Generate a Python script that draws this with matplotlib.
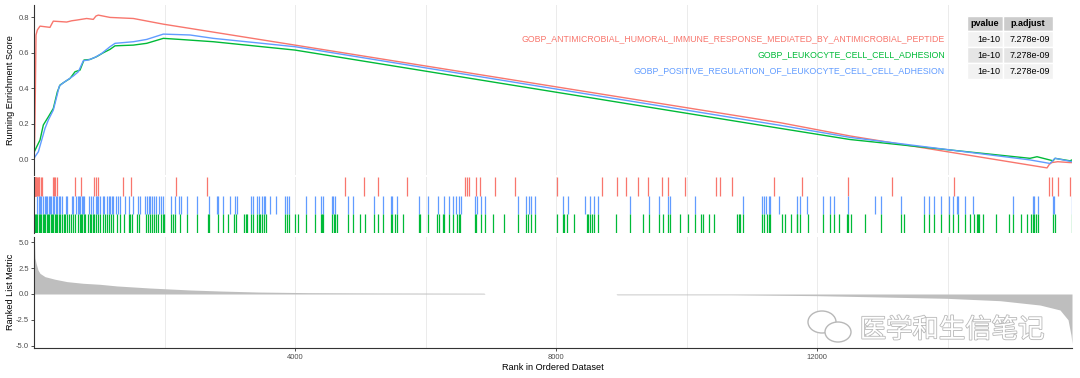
import numpy as np
import matplotlib
matplotlib.use("Agg")
import matplotlib.pyplot as plt
from matplotlib.patches import Rectangle, Ellipse
import matplotlib.patheffects as pe

plt.rcParams['font.family'] = ['Liberation Sans', 'DejaVu Sans']
plt.rcParams['axes.unicode_minus'] = False

# gene set names and stats
set_names = [
    "GOBP_ANTIMICROBIAL_HUMORAL_IMMUNE_RESPONSE_MEDIATED_BY_ANTIMICROBIAL_PEPTIDE",
    "GOBP_LEUKOCYTE_CELL_CELL_ADHESION",
    "GOBP_POSITIVE_REGULATION_OF_LEUKOCYTE_CELL_CELL_ADHESION",
]
set_colors = ["#F8766D", "#00BA38", "#619CFF"]
pvalues = ["1e-10", "1e-10", "1e-10"]
padjust = ["7.278e-09", "7.278e-09", "7.278e-09"]
n_genes = 15908

# running enrichment score
red_rank = [0, 10, 21, 31, 51, 92, 245, 276, 296, 501, 577, 654, 807, 909, 950, 986,
            1165, 1523, 1982, 4000, 11433, 12506, 15525, 15561, 15598, 15690, 15874, 15908]
red_es = [0.0, 0.107, 0.389, 0.699, 0.727, 0.749, 0.742, 0.764, 0.777, 0.772, 0.779, 0.783,
          0.792, 0.787, 0.806, 0.811, 0.798, 0.792, 0.76, 0.642, 0.205, 0.13, -0.05, -0.03,
          -0.02, -0.015, -0.02, -0.02]

green_rank = [0, 5, 41, 92, 143, 220, 296, 358, 399, 475, 552, 629, 705, 766, 858, 961,
              1063, 1165, 1242, 1523, 1727, 1982, 2238, 2749, 4000, 11433, 12506, 15264,
              15372, 15617, 15648, 15877, 15908]
green_es = [0.03, 0.041, 0.069, 0.107, 0.192, 0.238, 0.285, 0.379, 0.417, 0.436, 0.454,
            0.492, 0.501, 0.558, 0.561, 0.577, 0.599, 0.618, 0.638, 0.642, 0.652, 0.68,
            0.674, 0.661, 0.614, 0.173, 0.11, 0.004, 0.013, -0.01, 0.004, -0.01, -0.005]

blue_rank = [0, 15, 67, 118, 169, 220, 296, 348, 388, 450, 526, 603, 680, 756, 833, 935,
             1037, 1165, 1242, 1523, 1727, 1982, 2391, 2749, 4000, 11433, 12506, 15264,
             15571, 15648, 15908]
blue_es = [0.0, 0.013, 0.041, 0.107, 0.173, 0.22, 0.276, 0.351, 0.411, 0.43, 0.449, 0.468,
           0.492, 0.554, 0.558, 0.573, 0.595, 0.633, 0.652, 0.661, 0.674, 0.704, 0.699,
           0.68, 0.633, 0.19, 0.122, -0.005, -0.025, 0.004, -0.015]

# hit positions (ranks)
red_hits = [1, 3, 6, 10, 15, 21, 28, 36, 46, 58, 70, 80, 105, 115, 284, 307, 322, 352,
            628, 720, 927, 943, 977, 1369, 1492, 2172, 2651, 4771, 5062, 5277, 5721, 6610,
            6641, 6671, 6779, 6840, 7070, 7377, 8015, 8701, 8930, 9068, 9261, 9415, 9620,
            9712, 9977, 10457, 10509, 10702, 11346, 11770, 12471, 13145, 14105, 15561,
            15598, 15690, 15874]
blue_hits = [51, 72, 92, 113, 133, 164, 184, 205, 225, 246, 266, 286, 307, 338, 358, 378,
             399, 435, 486, 511, 578, 603, 639, 670, 690, 711, 731, 751, 772, 848, 869, 910,
             945, 966, 986, 1007, 1053, 1073, 1124, 1145, 1170, 1191, 1211, 1257, 1283,
             1318, 1395, 1461, 1523, 1599, 1630, 1707, 1732, 1758, 1783, 1809, 1845, 1870,
             1911, 1942, 1972, 2095, 2167, 2228, 2253, 2350, 2494, 2688, 2800, 2821, 2902,
             3010, 3086, 3107, 3331, 3352, 3413, 3454, 3495, 3520, 3546, 3617, 3709, 3852,
             3883, 3904, 4174, 4312, 4404, 4435, 4573, 4588, 4608, 4808, 4884, 5216, 5354,
             5467, 5482, 5559, 5906, 6034, 6197, 6289, 6366, 6427, 6468, 6519, 6540, 6759,
             6785, 6851, 6913, 7423, 7536, 7582, 7623, 7679, 8112, 8179, 8449, 8516, 8587,
             8649, 9139, 9425, 9584, 9711, 9752, 10125, 10861, 11157, 11188, 11218, 11269,
             11285, 11423, 11699, 11745, 11847, 12087, 12194, 12266, 12480, 12894, 12976,
             13288, 13645, 13722, 13798, 13906, 14018, 14090, 14141, 14161, 14274, 14391,
             15009, 15306, 15321, 15392, 15622, 15638, 15903]
green_hits = [11, 31, 51, 72, 92, 113, 133, 154, 174, 194, 215, 235, 256, 276, 297, 317,
              338, 358, 378, 399, 435, 455, 475, 501, 532, 562, 593, 629, 680, 700, 721,
              741, 762, 782, 833, 854, 874, 900, 925, 956, 986, 1017, 1058, 1089, 1124,
              1155, 1186, 1216, 1278, 1318, 1380, 1451, 1472, 1507, 1584, 1605, 1717, 1743,
              1778, 1809, 1840, 1875, 1906, 1942, 1972, 1998, 2100, 2131, 2167, 2238, 2340,
              2504, 2662, 2683, 2815, 2892, 2969, 3061, 3096, 3224, 3250, 3270, 3331, 3362,
              3413, 3444, 3464, 3500, 3531, 3556, 3853, 3883, 3914, 4001, 4052, 4174, 4312,
              4404, 4419, 4435, 4573, 4593, 4608, 4644, 4808, 4884, 5002, 5078, 5216, 5278,
              5354, 5467, 5487, 5528, 5564, 5651, 5906, 5921, 6034, 6172, 6202, 6274, 6289,
              6366, 6427, 6478, 6509, 6529, 6759, 6780, 6851, 6913, 7040, 7209, 7423, 7536,
              7577, 7623, 7679, 8011, 8112, 8127, 8173, 8276, 8470, 8495, 8521, 8551, 8587,
              8649, 8919, 9139, 9338, 9425, 9584, 9645, 9711, 9752, 9905, 10028, 10125,
              10217, 10248, 10340, 10427, 10769, 10805, 10825, 10861, 11157, 11188, 11228,
              11269, 11285, 11469, 11515, 11607, 11689, 11699, 11745, 11862, 12087, 12194,
              12266, 12332, 12455, 12470, 12526, 12731, 12976, 13288, 13339, 13645, 13722,
              13798, 13906, 14018, 14079, 14156, 14274, 14340, 14406, 14447, 14473, 14488,
              14549, 14749, 14948, 15009, 15127, 15214, 15280, 15306, 15321, 15357, 15392,
              15622, 15648, 15903]

# ranked list metric
metric_rank = [0, 8, 15, 31, 61, 92, 169, 322, 506, 751, 1011, 1272, 1778, 2391, 2851,
               3433, 4199, 5257, 6897, 6912, 8920, 8935, 10697, 11985, 13992, 14805, 15418,
               15724, 15847, 15893, 15908]
metric_val = [4.95, 4.95, 3.5, 3.0, 2.33, 2.0, 1.68, 1.43, 1.2, 1.04, 0.94, 0.78, 0.58,
              0.39, 0.29, 0.19, 0.13, 0.1, 0.08, 0.0, 0.0, -0.08, -0.08, -0.16, -0.42,
              -0.65, -1.07, -1.55, -2.5, -4.0, -4.8]

W, H = 1080, 378
fig = plt.figure(figsize=(10.8, 3.78), dpi=100)

def px_axes(x0, y0, x1, y1):
    return fig.add_axes([x0 / W, 1 - y1 / H, (x1 - x0) / W, (y1 - y0) / H])

ax1 = px_axes(34, 5, 1072, 175)
ax2 = px_axes(34, 177, 1072, 233)
ax3 = px_axes(34, 237, 1072, 348)

spine_c = "#333333"
tick_c = "#4d4d4d"
grid_x = np.arange(2000, 16000, 2000)

for ax in (ax1, ax2, ax3):
    ax.set_xlim(0, n_genes)
    for s in ax.spines.values():
        s.set_visible(False)
    ax.spines['left'].set_visible(True)
    ax.spines['left'].set_color(spine_c)
    ax.spines['left'].set_linewidth(0.8)
    for g in grid_x:
        ax.axvline(g, color="#ebebeb", lw=0.7, zorder=0)
    ax.set_xticks([])
    ax.tick_params(axis='y', length=2, width=0.6, color=spine_c, labelsize=5.5,
                   labelcolor=tick_c, pad=1.5)

# running score
ax1.plot(red_rank, red_es, color=set_colors[0], lw=1.0)
ax1.plot(green_rank, green_es, color=set_colors[1], lw=1.0)
ax1.plot(blue_rank, blue_es, color=set_colors[2], lw=1.0)
ax1.set_ylim(-0.09, 0.868)
ax1.set_yticks([0.0, 0.2, 0.4, 0.6, 0.8])
ax1.set_yticklabels(["0.0", "0.2", "0.4", "0.6", "0.8"])

# rug
ax2.vlines(red_hits, 2, 3, color=set_colors[0], lw=0.9)
ax2.vlines(blue_hits, 1, 2, color=set_colors[2], lw=0.9)
ax2.vlines(green_hits, 0, 1, color=set_colors[1], lw=0.9)
ax2.set_ylim(0, 3)
ax2.set_yticks([])

# ranked metric
ax3.fill_between(metric_rank, 0, metric_val, color="#bebebe", lw=0)
ax3.set_ylim(-5.24, 5.53)
ax3.set_yticks([5.0, 2.5, 0.0, -2.5, -5.0])
ax3.set_yticklabels(["5.0", "2.5", "0.0", "-2.5", "-5.0"])
ax3.spines['bottom'].set_visible(True)
ax3.spines['bottom'].set_color(spine_c)
ax3.spines['bottom'].set_linewidth(0.8)
ax3.set_xticks([4000, 8000, 12000])
ax3.set_xticklabels(["4000", "8000", "12000"])
ax3.tick_params(axis='x', length=2, width=0.6, color=spine_c, labelsize=5.5,
                labelcolor=tick_c, pad=2)

fig.text(11 / W, 1 - 90 / H, "Running Enrichment Score", rotation=90, ha='center',
         va='center', fontsize=6.6, color="black")
fig.text(11 / W, 1 - 292 / H, "Ranked List Metric", rotation=90, ha='center',
         va='center', fontsize=6.6, color="black")
fig.text(553 / W, 1 - 368 / H, "Rank in Ordered Dataset", ha='center', va='center',
         fontsize=6.6, color="black")

# legend labels
row_y = [39, 55, 71]
for name, col, y in zip(set_names, set_colors, row_y):
    fig.text(945 / W, 1 - y / H, name, ha='right', va='center', fontsize=6.3, color=col)

# stats table
col_x = [967, 1003, 1053]
header_y = (16, 31)
row_bounds = [(31, 47), (47, 63), (63, 79)]
row_bg = ["#f2f2f2", "#e5e5e5", "#f2f2f2"]

def cell(x0, x1, y0, y1, fc):
    fig.patches.append(Rectangle((x0 / W, 1 - y1 / H), (x1 - x0) / W, (y1 - y0) / H,
                                 transform=fig.transFigure, fc=fc, ec="white", lw=1.0))

for j, head in enumerate(["pvalue", "p.adjust"]):
    cell(col_x[j], col_x[j + 1], header_y[0], header_y[1], "#cccccc")
    fig.text((col_x[j] + col_x[j + 1]) / 2 / W, 1 - sum(header_y) / 2 / H, head,
             ha='center', va='center', fontsize=6.5, fontweight='bold')
for i, (y0, y1) in enumerate(row_bounds):
    for j, val in enumerate([pvalues[i], padjust[i]]):
        cell(col_x[j], col_x[j + 1], y0, y1, row_bg[i])
        fig.text(col_x[j + 1] / W - 3 / W, 1 - (y0 + y1) / 2 / H, val,
                 ha='right', va='center', fontsize=6.5)

# watermark
wm_c = "#b8b8b8"
fig.patches.append(Ellipse((822 / W, 1 - 322 / H), 28 / W, 22 / H, transform=fig.transFigure,
                           fc="white", ec=wm_c, lw=1.0, zorder=5))
fig.patches.append(Ellipse((838 / W, 1 - 332 / H), 26 / W, 20 / H, transform=fig.transFigure,
                           fc="white", ec=wm_c, lw=1.0, zorder=6))
fig.text(952 / W, 1 - 330 / H, "医学和生信笔记", ha='center', va='center', fontsize=19,
         color="white", family=['Noto Sans CJK SC', 'DejaVu Sans'], zorder=7,
         path_effects=[pe.withStroke(linewidth=1.2, foreground=wm_c)])

fig.savefig("out.png", dpi=100)
